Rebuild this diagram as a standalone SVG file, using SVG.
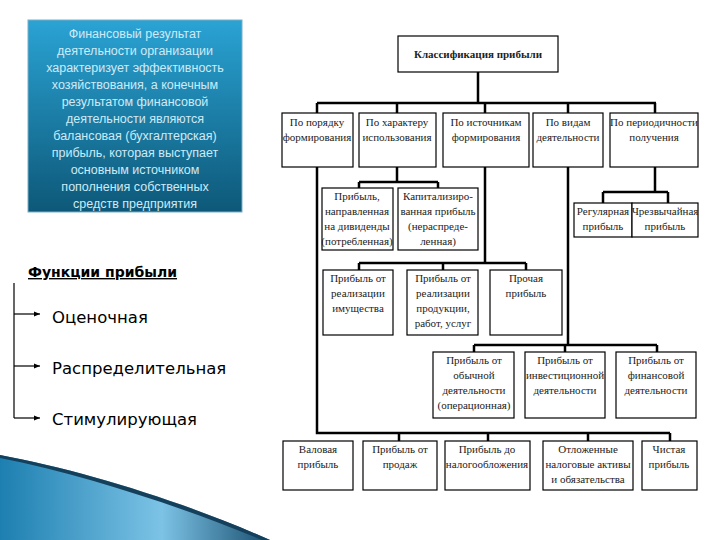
<svg xmlns="http://www.w3.org/2000/svg" width="720" height="540" viewBox="0 0 720 540">
<defs>
<linearGradient id="bg" x1="0" y1="0" x2="0" y2="1"><stop offset="0" stop-color="#2aa3d4"/><stop offset="1" stop-color="#0d5878"/></linearGradient>
<linearGradient id="sw" x1="0" y1="0" x2="1" y2="0"><stop offset="0" stop-color="#1d7fb0"/><stop offset="0.6" stop-color="#7cc3e6"/><stop offset="1" stop-color="#1a4e6e"/></linearGradient>
<marker id="ar" markerWidth="6" markerHeight="6" refX="5" refY="3" orient="auto"><path d="M0,1 L5,3 L0,5 Z" fill="#000"/></marker>
<style>
.b{fill:#fff;stroke:#000;stroke-width:1.2}
.t{font-family:'Liberation Serif','Times New Roman',serif;font-size:11px;fill:#222;text-anchor:middle}
.c{stroke:#000;stroke-width:2.5;fill:none}
.w{font-family:'Liberation Sans',sans-serif;font-size:12.5px;fill:#cfeaf7;text-anchor:middle}
.f{font-family:'DejaVu Sans',sans-serif;font-size:16.5px;fill:#000}
</style>
</defs>
<rect width="720" height="540" fill="#fff"/>
<path d="M0,455 C80,470 180,500 270,540 L0,540 Z" fill="url(#sw)"/>
<path d="M0,458 C90,476 190,510 262,540 L270,540 C180,500 80,470 0,455 Z" fill="#15405c"/>
<g id="intro">
<rect x="28" y="20" width="214" height="192" fill="url(#bg)" stroke="#7aaec8" stroke-width="1"/>
<text class="w" x="135" y="38">Финансовый результат</text>
<text class="w" x="135" y="55">деятельности организации</text>
<text class="w" x="135" y="72">характеризует эффективность</text>
<text class="w" x="135" y="89">хозяйствования, а конечным</text>
<text class="w" x="135" y="106">результатом финансовой</text>
<text class="w" x="135" y="123">деятельности являются</text>
<text class="w" x="135" y="140">балансовая (бухгалтерская)</text>
<text class="w" x="135" y="157">прибыль, которая выступает</text>
<text class="w" x="135" y="174">основным источником</text>
<text class="w" x="135" y="191">пополнения собственных</text>
<text class="w" x="135" y="208">средств предприятия</text>
</g>
<g id="functions">
<text x="28" y="277" font-family="DejaVu Sans,sans-serif" font-size="14" font-weight="bold" text-decoration="underline">Функции прибыли</text>
<path d="M14,283 V418" stroke="#000" stroke-width="1.2" fill="none"/>
<path d="M14,314 H40" stroke="#000" stroke-width="1.2" marker-end="url(#ar)"/>
<path d="M14,366 H40" stroke="#000" stroke-width="1.2" marker-end="url(#ar)"/>
<path d="M14,418 H40" stroke="#000" stroke-width="1.2" marker-end="url(#ar)"/>
<text class="f" x="52" y="323">Оценочная</text>
<text class="f" x="52" y="374">Распределительная</text>
<text class="f" x="52" y="425">Стимулирующая</text>
</g>
<g id="connectors">
<path class="c" d="M478,72 V103 M317,103 H656 M317,103 V113 M397,103 V113 M485,103 V113 M568,103 V113 M655,103 V113"/>
<path class="c" d="M317,167 V433 H670 M399,433 V441 M488,433 V441 M588,433 V441 M670,433 V441"/>
<path class="c" d="M397,167 V182 M359,182 H438 M359,182 V188 M438,182 V188"/>
<path class="c" d="M485,167 V263 M359,263 H526 M359,263 V270 M443,263 V270 M526,263 V270"/>
<path class="c" d="M568,167 V345 M474,345 H657 M474,345 V352 M565,345 V352 M657,345 V352"/>
<path class="c" d="M655,167 V192 M603,192 H668 M603,192 V203 M668,192 V203"/>
</g>
<g id="root"><rect class="b" x="398" y="36" width="160" height="36"/><text class="t" x="478" y="58" font-size="13" font-weight="bold">Классификация прибыли</text></g>
<g id="n1"><rect class="b" x="282" y="113" width="71" height="54"/><text class="t" x="317" y="126">По порядку</text><text class="t" x="317" y="141">формирования</text></g>
<g id="n2"><rect class="b" x="359" y="113" width="77" height="54"/><text class="t" x="397" y="126">По характеру</text><text class="t" x="397" y="141">использования</text></g>
<g id="n3"><rect class="b" x="443" y="113" width="86" height="54"/><text class="t" x="486" y="126">По источникам</text><text class="t" x="486" y="141">формирования</text></g>
<g id="n4"><rect class="b" x="533" y="113" width="70" height="54"/><text class="t" x="568" y="126">По видам</text><text class="t" x="568" y="141">деятельности</text></g>
<g id="n5"><rect class="b" x="610" y="113" width="88" height="54"/><text class="t" x="654" y="126">По периодичности</text><text class="t" x="654" y="141">получения</text></g>
<g id="n2a"><rect class="b" x="322" y="188" width="71" height="62"/><text class="t" x="357" y="200">Прибыль,</text><text class="t" x="357" y="215">направленная</text><text class="t" x="357" y="230">на дивиденды</text><text class="t" x="357" y="245">(потребленная)</text></g>
<g id="n2b"><rect class="b" x="398" y="188" width="80" height="62"/><text class="t" x="438" y="200">Капитализиро-</text><text class="t" x="438" y="215">ванная прибыль</text><text class="t" x="438" y="230">(нераспреде-</text><text class="t" x="438" y="245">ленная)</text></g>
<g id="n5a"><rect class="b" x="574" y="203" width="58" height="34"/><text class="t" x="603" y="215" font-size="10.5">Регулярная</text><text class="t" x="603" y="230">прибыль</text></g>
<g id="n5b"><rect class="b" x="632" y="203" width="66" height="34"/><text class="t" x="665" y="215" font-size="10.5">Чрезвычайная</text><text class="t" x="665" y="230">прибыль</text></g>
<g id="n3a"><rect class="b" x="323" y="270" width="70" height="65"/><text class="t" x="358" y="282">Прибыль от</text><text class="t" x="358" y="297">реализации</text><text class="t" x="358" y="312">имущества</text></g>
<g id="n3b"><rect class="b" x="407" y="270" width="71" height="65"/><text class="t" x="443" y="282">Прибыль от</text><text class="t" x="443" y="297">реализации</text><text class="t" x="443" y="312">продукции,</text><text class="t" x="443" y="327">работ, услуг</text></g>
<g id="n3c"><rect class="b" x="490" y="270" width="72" height="65"/><text class="t" x="526" y="282">Прочая</text><text class="t" x="526" y="297">прибыль</text></g>
<g id="n4a"><rect class="b" x="433" y="352" width="81" height="66"/><text class="t" x="474" y="364">Прибыль от</text><text class="t" x="474" y="379">обычной</text><text class="t" x="474" y="394">деятельности</text><text class="t" x="474" y="409">(операционная)</text></g>
<g id="n4b"><rect class="b" x="525" y="352" width="80" height="66"/><text class="t" x="565" y="364">Прибыль от</text><text class="t" x="565" y="379">инвестиционной</text><text class="t" x="565" y="394">деятельности</text></g>
<g id="n4c"><rect class="b" x="616" y="352" width="80" height="66"/><text class="t" x="656" y="364">Прибыль от</text><text class="t" x="656" y="379">финансовой</text><text class="t" x="656" y="394">деятельности</text></g>
<g id="n1a"><rect class="b" x="283" y="441" width="70" height="49"/><text class="t" x="318" y="453">Валовая</text><text class="t" x="318" y="468">прибыль</text></g>
<g id="n1b"><rect class="b" x="363" y="441" width="74" height="49"/><text class="t" x="400" y="453">Прибыль от</text><text class="t" x="400" y="468">продаж</text></g>
<g id="n1c"><rect class="b" x="445" y="441" width="85" height="49"/><text class="t" x="487" y="453">Прибыль до</text><text class="t" x="487" y="468">налогообложения</text></g>
<g id="n1d"><rect class="b" x="543" y="441" width="90" height="49"/><text class="t" x="588" y="453">Отложенные</text><text class="t" x="588" y="468">налоговые активы</text><text class="t" x="588" y="483">и обязательства</text></g>
<g id="n1e"><rect class="b" x="642" y="441" width="55" height="49"/><text class="t" x="669" y="453">Чистая</text><text class="t" x="669" y="468">прибыль</text></g>
</svg>
